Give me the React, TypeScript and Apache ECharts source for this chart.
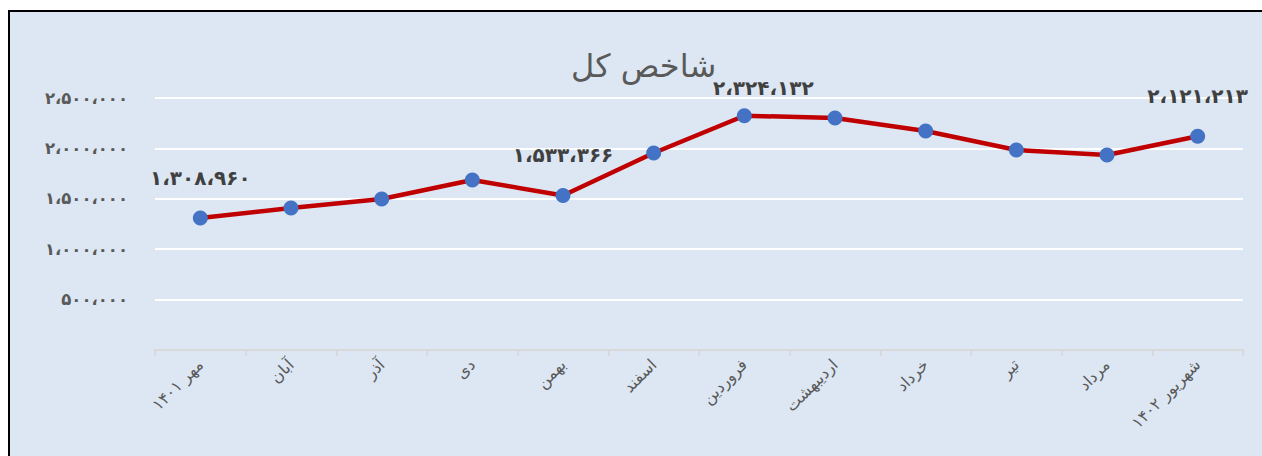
import React, { useEffect, useRef } from "react";
import * as echarts from "echarts";

const title = "شاخص کل";
const categories = [
  "مهر ۱۴۰۱",
  "آبان",
  "آذر",
  "دی",
  "بهمن",
  "اسفند",
  "فروردین",
  "اردیبهشت",
  "خرداد",
  "تیر",
  "مرداد",
  "شهریور ۱۴۰۲",
];
const values = [
  1308960, 1409000, 1498000, 1687000, 1533366, 1954000, 2324132, 2302000,
  2173000, 1984000, 1935000, 2121213,
];
const labelled = [0, 4, 6, 11];
const yMin = 0;
const yMax = 2500000;
const yInterval = 500000;

const faDigits = "۰۱۲۳۴۵۶۷۸۹";
function toFa(n: number): string {
  const s = Math.round(n).toString().replace(/\B(?=(\d{3})+(?!\d))/g, "،");
  return s.replace(/\d/g, (d) => faDigits[+d]);
}

const FONT = "'DejaVu Sans', 'Noto Sans', sans-serif";

export default function App() {
  const ref = useRef<HTMLDivElement>(null);
  useEffect(() => {
    if (!ref.current) return;
    const chart = echarts.init(ref.current, undefined, { renderer: "svg" });
    const data = values.map((v, i) => {
      const item: any = { value: v };
      if (labelled.includes(i)) {
        item.label = {
          show: true,
          position: "top",
          distance: i === 6 ? 10 : 23,
          offset: i === 6 ? [19, 0] : [0, 0],
          formatter: () => toFa(v),
          fontFamily: FONT,
          fontSize: 20,
          fontWeight: "bold",
          color: "#404040",
        };
      }
      return item;
    });
    chart.setOption({
      animation: false,
      backgroundColor: "transparent",
      title: {
        text: title,
        left: 556,
        top: 33,
        textStyle: {
          fontFamily: FONT,
          fontSize: 32,
          fontWeight: "normal",
          color: "#595959",
        },
      },
      grid: { left: 145, right: 19, top: 86, bottom: 106, containLabel: false },
      xAxis: {
        type: "category",
        data: categories,
        boundaryGap: true,
        axisLine: { show: true, lineStyle: { color: "#d9d9d9", width: 2 } },
        axisTick: { show: true, length: 6, lineStyle: { color: "#d9d9d9", width: 2 } },
        axisLabel: {
          rotate: 45,
          margin: 12,
          fontFamily: FONT,
          fontSize: 16,
          color: "#595959",
          interval: 0,
        },
        splitLine: { show: false },
      },
      yAxis: {
        type: "value",
        min: yMin,
        max: yMax,
        interval: yInterval,
        axisLine: { show: false },
        axisTick: { show: false },
        axisLabel: {
          margin: 27,
          fontFamily: FONT,
          fontSize: 16.5,
          fontWeight: "bold",
          color: "#595959",
          formatter: (v: number) => (v === 0 ? "" : toFa(v)),
        },
        splitLine: { show: true, lineStyle: { color: "#ffffff", width: 2 } },
      },
      series: [
        {
          type: "line",
          data,
          symbol: "circle",
          symbolSize: 15,
          lineStyle: { color: "#c00000", width: 4.5 },
          itemStyle: { color: "#4472c4" },
          label: { show: false },
          z: 3,
        },
      ],
    });
    return () => chart.dispose();
  }, []);
  return (
    <div
      style={{
        position: "fixed",
        left: 8,
        top: 10,
        width: 1254,
        height: 446,
        borderTop: "2px solid #000",
        borderLeft: "2px solid #000",
        background: "#dce7f3",
        boxSizing: "border-box",
        overflow: "hidden",
      }}
    >
      <div ref={ref} style={{ width: 1252, height: 444 }} />
    </div>
  );
}
